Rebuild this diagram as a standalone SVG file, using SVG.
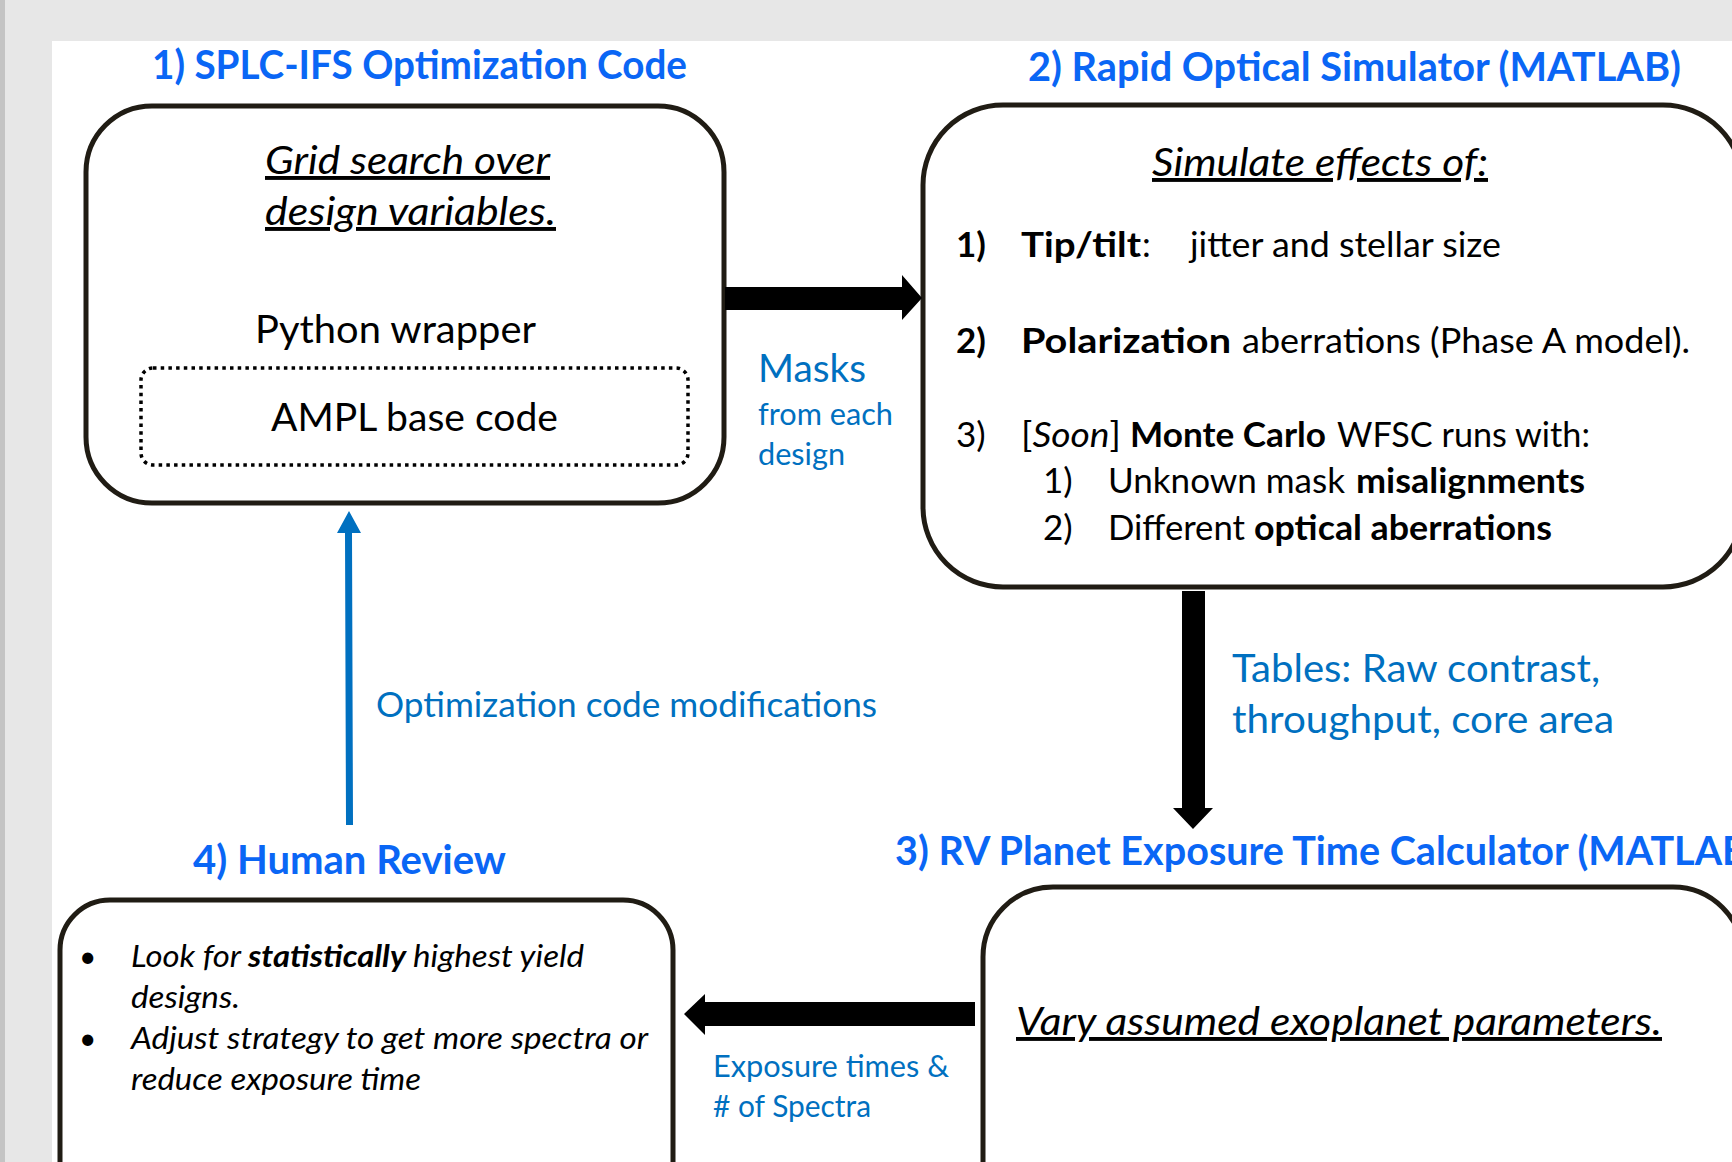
<svg xmlns="http://www.w3.org/2000/svg" width="1732" height="1162" viewBox="0 0 1732 1162">
<defs>
<style>
.box{fill:#ffffff;stroke:#201c14;stroke-width:5}
.dot{fill:none;stroke:#000;stroke-width:3.5;stroke-dasharray:3.5 4.2}
.t{font-family:Lato,"Liberation Sans",sans-serif;fill:#000}
.title{font-family:Lato,"Liberation Sans",sans-serif;font-weight:bold;fill:#0a66f5;font-size:40px}
.lbl{font-family:Lato,"Liberation Sans",sans-serif;fill:#0070c0}
.big{font-size:39px}
.mid{font-size:35px}
.sm{font-size:30px}
.b{font-weight:bold}
.i{font-style:italic}
.u{text-decoration:underline}
.arrow{fill:#000}
</style>
</defs>
<rect x="0" y="0" width="1732" height="1162" fill="#e7e7e7"/>
<rect x="0" y="0" width="5" height="1162" fill="#c4c4c4"/>
<rect x="52" y="41" width="1680" height="1121" fill="#ffffff"/>

<g id="node1">
<text class="title" x="152" y="79" textLength="535" lengthAdjust="spacingAndGlyphs">1) SPLC-IFS Optimization Code</text>
<rect class="box" x="86" y="106" width="638" height="397" rx="66" ry="66"/>
<text class="t big i u" x="265" y="174" textLength="285" lengthAdjust="spacingAndGlyphs">Grid search over</text>
<text class="t big i u" x="265" y="225" textLength="291" lengthAdjust="spacingAndGlyphs">design variables.</text>
<text class="t big" x="255" y="343" textLength="281" lengthAdjust="spacingAndGlyphs">Python wrapper</text>
<rect class="dot" x="141" y="368" width="547" height="97" rx="12" ry="12"/>
<text class="t big" x="271" y="431" textLength="287" lengthAdjust="spacingAndGlyphs">AMPL base code</text>
</g>

<g id="node2">
<text class="title" x="1028" y="81" textLength="653" lengthAdjust="spacingAndGlyphs">2) Rapid Optical Simulator (MATLAB)</text>
<rect class="box" x="923" y="105" width="820" height="482" rx="80" ry="80"/>
<text class="t big i u" x="1152" y="176" textLength="336" lengthAdjust="spacingAndGlyphs">Simulate effects of:</text>
<text class="t mid b" x="956" y="257">1)</text>
<text class="t mid b" x="1021" y="257" textLength="120" lengthAdjust="spacingAndGlyphs">Tip/tilt</text>
<text class="t mid" x="1142" y="257">:</text>
<text class="t mid" x="1190" y="257" textLength="311" lengthAdjust="spacingAndGlyphs">jitter and stellar size</text>
<text class="t mid b" x="956" y="353">2)</text>
<text class="t mid b" x="1021" y="353" textLength="210" lengthAdjust="spacingAndGlyphs">Polarization</text>
<text class="t mid" x="1242" y="353" textLength="448" lengthAdjust="spacingAndGlyphs">aberrations (Phase A model).</text>
<text class="t mid" x="956" y="447">3)</text>
<text class="t mid" x="1021" y="447" textLength="100" lengthAdjust="spacingAndGlyphs">[<tspan class="i">Soon</tspan>]</text>
<text class="t mid b" x="1130" y="447" textLength="196" lengthAdjust="spacingAndGlyphs">Monte Carlo</text>
<text class="t mid" x="1337" y="447" textLength="253" lengthAdjust="spacingAndGlyphs">WFSC runs with:</text>
<text class="t mid" x="1043" y="493">1)</text>
<text class="t mid" x="1108" y="493" textLength="237" lengthAdjust="spacingAndGlyphs">Unknown mask</text>
<text class="t mid b" x="1356" y="493" textLength="229" lengthAdjust="spacingAndGlyphs">misalignments</text>
<text class="t mid" x="1043" y="540">2)</text>
<text class="t mid" x="1108" y="540" textLength="137" lengthAdjust="spacingAndGlyphs">Different</text>
<text class="t mid b" x="1254" y="540" textLength="298" lengthAdjust="spacingAndGlyphs">optical aberrations</text>
</g>

<g id="node3">
<text class="title" x="895" y="865" textLength="864" lengthAdjust="spacingAndGlyphs">3) RV Planet Exposure Time Calculator (MATLAB)</text>
<rect class="box" x="983" y="887" width="760" height="420" rx="70" ry="70"/>
<text class="t big i u" x="1016" y="1035" textLength="646" lengthAdjust="spacingAndGlyphs">Vary assumed exoplanet parameters.</text>
</g>

<g id="node4">
<text class="title" x="193" y="874" textLength="313" lengthAdjust="spacingAndGlyphs">4) Human Review</text>
<rect class="box" x="60" y="900" width="613" height="420" rx="50" ry="50"/>
<text class="t sm" x="79" y="967">•</text>
<text class="t sm i" x="131" y="967" textLength="110" lengthAdjust="spacingAndGlyphs">Look for</text>
<text class="t sm i b" x="248" y="967" textLength="158" lengthAdjust="spacingAndGlyphs">statistically</text>
<text class="t sm i" x="413" y="967" textLength="171" lengthAdjust="spacingAndGlyphs">highest yield</text>
<text class="t sm i" x="131" y="1008" textLength="109" lengthAdjust="spacingAndGlyphs">designs.</text>
<text class="t sm" x="79" y="1049">•</text>
<text class="t sm i" x="131" y="1049" textLength="517" lengthAdjust="spacingAndGlyphs">Adjust strategy to get more spectra or</text>
<text class="t sm i" x="131" y="1090" textLength="290" lengthAdjust="spacingAndGlyphs">reduce exposure time</text>
</g>

<g id="connectors">
<polygon class="arrow" points="725,287 902,287 902,275 922,298 902,320 902,310 725,310"/>
<text class="lbl big" x="758" y="382" textLength="108" lengthAdjust="spacingAndGlyphs">Masks</text>
<text class="lbl sm" x="758" y="425" textLength="135" lengthAdjust="spacingAndGlyphs">from each</text>
<text class="lbl sm" x="758" y="465" textLength="87" lengthAdjust="spacingAndGlyphs">design</text>

<polygon class="arrow" points="1182,591 1205,591 1205,808 1213,808 1193,829 1173,808 1182,808"/>
<text class="lbl big" x="1232" y="682" textLength="368" lengthAdjust="spacingAndGlyphs">Tables: Raw contrast,</text>
<text class="lbl big" x="1232" y="733" textLength="382" lengthAdjust="spacingAndGlyphs">throughput, core area</text>

<polygon class="arrow" points="975,1002 705,1002 705,994 684,1014 705,1035 705,1026 975,1026"/>
<text class="lbl sm" x="713" y="1077" textLength="236" lengthAdjust="spacingAndGlyphs">Exposure times &amp;</text>
<text class="lbl sm" x="713" y="1117" textLength="158" lengthAdjust="spacingAndGlyphs"># of Spectra</text>

<polygon fill="#0070c0" points="346,825 353,825 352,533 361,533 349,511 337,533 345,533"/>
<text class="lbl" font-size="34" x="376" y="717" textLength="501" lengthAdjust="spacingAndGlyphs">Optimization code modifications</text>
</g>
</svg>
